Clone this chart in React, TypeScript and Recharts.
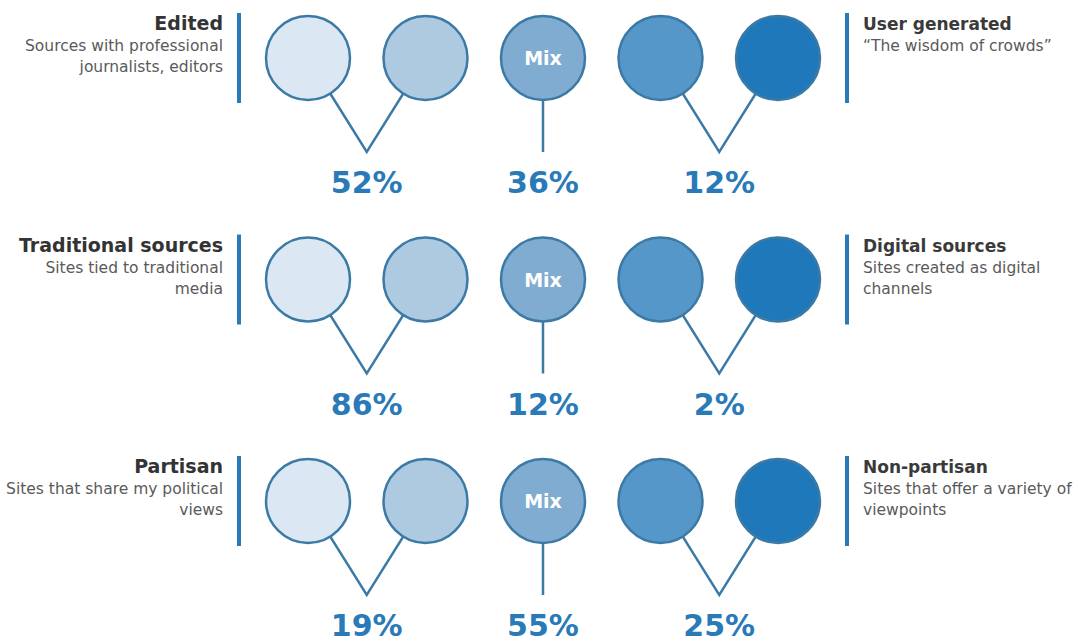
import { Scatter, ScatterChart, XAxis, YAxis } from "recharts"

// three dimensions, one row each
const rows = [0, 1, 2]

const leftTitles = ["Edited", "Traditional sources", "Partisan"]
const leftNotes = [
  ["Sources with professional", "journalists, editors"],
  ["Sites tied to traditional", "media"],
  ["Sites that share my political", "views"],
]
const rightTitles = ["User generated", "Digital sources", "Non-partisan"]
const rightNotes = [
  ["\u201CThe wisdom of crowds\u201D"],
  ["Sites created as digital", "channels"],
  ["Sites that offer a variety of", "viewpoints"],
]

// share of respondents per group (%)
const leftShares = [52, 86, 19]
const mixShares = [36, 12, 55]
const rightShares = [12, 2, 25]

// five circles per row: two left, mix, two right
const slots = [0, 1, 2, 3, 4]
const slotFills = ["#dbe7f2", "#aecae1", "#80acd2", "#5597c9", "#1f78b9"]

const W = 1078
const H = 644
const PAD_LEFT = 308
const PAD_RIGHT = 300
const SLOT_PX = (W - PAD_LEFT - PAD_RIGHT) / (slots.length - 1)
const R = 42
const DROP = 94
const FONT = "'DejaVu Sans', Arial, sans-serif"
const LINE = "#3c7aa6"
const BLUE = "#2a7ab8"

const circleData = rows.flatMap((row) => slots.map((slot) => ({ row, slot })))

const groupData = rows.flatMap((row) => [
  { row, slot: (slots[0] + slots[1]) / 2, share: leftShares[row], kind: "pair" },
  { row, slot: slots[2], share: mixShares[row], kind: "mix" },
  { row, slot: (slots[3] + slots[4]) / 2, share: rightShares[row], kind: "pair" },
])

const sideData = rows.flatMap((row) => [
  { row, slot: slots[0], side: "left", title: leftTitles[row], notes: leftNotes[row] },
  { row, slot: slots[4], side: "right", title: rightTitles[row], notes: rightNotes[row] },
])

const CircleShape = (props: any) => {
  const { cx, cy, payload } = props
  return (
    <g>
      <circle cx={cx} cy={cy} r={R} fill={slotFills[payload.slot]} stroke={LINE} strokeWidth={2.5} />
      {payload.slot === 2 && (
        <text x={cx} y={cy + 7} textAnchor="middle" fill="#fff" fontSize={19} fontWeight="bold" fontFamily={FONT}>
          Mix
        </text>
      )}
    </g>
  )
}

const GroupShape = (props: any) => {
  const { cx, cy, payload } = props
  const half = SLOT_PX / 2
  return (
    <g>
      {payload.kind === "pair" ? (
        <polyline
          points={`${cx - half},${cy} ${cx},${cy + DROP} ${cx + half},${cy}`}
          fill="none"
          stroke={LINE}
          strokeWidth={2.5}
        />
      ) : (
        <line x1={cx} y1={cy} x2={cx} y2={cy + DROP} stroke={LINE} strokeWidth={2.5} />
      )}
      <text x={cx} y={cy + 135} textAnchor="middle" fill={BLUE} fontSize={30} fontWeight="bold" fontFamily={FONT}>
        {payload.share}%
      </text>
    </g>
  )
}

const SideShape = (props: any) => {
  const { cx, cy, payload } = props
  const left = payload.side === "left"
  const barX = left ? cx - 69 : cx + 69
  const textX = left ? cx - 85 : cx + 85
  return (
    <g>
      <rect x={barX - 2} y={cy - 45} width={4} height={90} fill={BLUE} />
      <text
        x={textX}
        y={cy - 28}
        textAnchor={left ? "end" : "start"}
        fill={left ? "#333" : "#3a3a3a"}
        fontSize={left ? 19 : 17}
        fontWeight="bold"
        fontFamily={FONT}
      >
        {payload.title}
      </text>
      {payload.notes.map((note: string, i: number) => (
        <text
          key={i}
          x={textX}
          y={cy - 7 + i * 21}
          textAnchor={left ? "end" : "start"}
          fill="#5a5a5a"
          fontSize={15.5}
          fontFamily={FONT}
        >
          {note}
        </text>
      ))}
    </g>
  )
}

export default function App() {
  return (
    <div style={{ position: "absolute", left: 0, top: 0, background: "#fff" }}>
      <ScatterChart width={W} height={H} margin={{ top: 0, right: 0, bottom: 0, left: 0 }}>
        <XAxis
          type="number"
          dataKey="slot"
          domain={[0, 4]}
          padding={{ left: PAD_LEFT, right: PAD_RIGHT }}
          hide
        />
        <YAxis type="number" dataKey="row" domain={[0, 2]} reversed padding={{ top: 58, bottom: 143 }} hide />
        <Scatter data={sideData} shape={SideShape} isAnimationActive={false} />
        <Scatter data={groupData} shape={GroupShape} isAnimationActive={false} />
        <Scatter data={circleData} shape={CircleShape} isAnimationActive={false} />
      </ScatterChart>
    </div>
  )
}
